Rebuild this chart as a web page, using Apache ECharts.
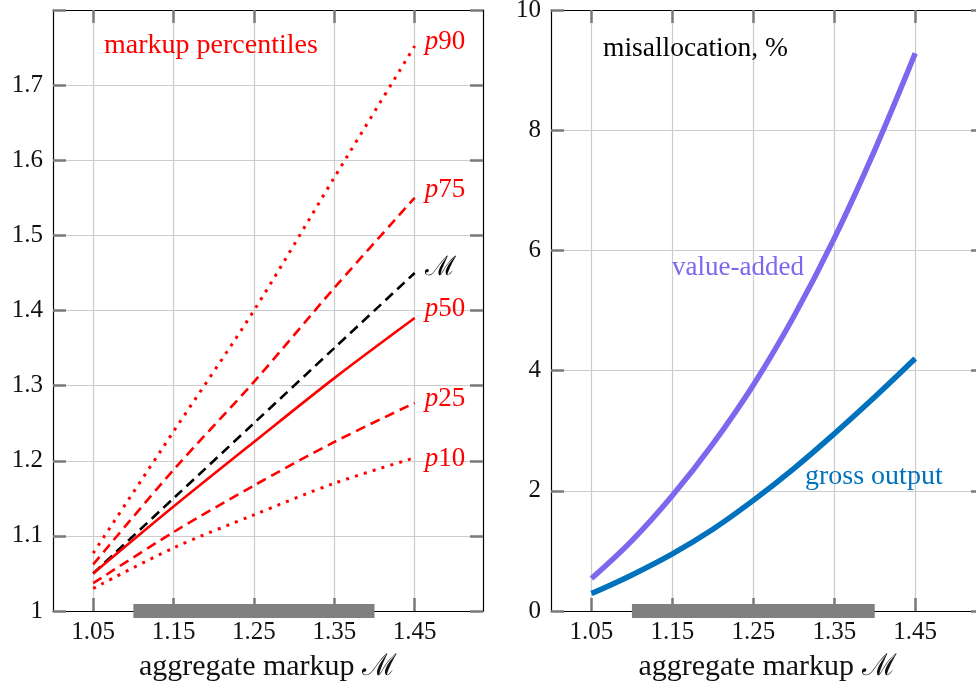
<!DOCTYPE html>
<html><head><meta charset="utf-8">
<script src="https://cdn.jsdelivr.net/npm/echarts@6/dist/echarts.min.js"></script>
<style>html,body{margin:0;padding:0;background:#fff}#c{width:976px;height:685px}</style>
</head><body><div id="c"></div>
<script>
// ---- data ----
const markupX = [1.05, 1.15, 1.25, 1.35, 1.45];
const p90 = [1.077, 1.239, 1.400, 1.577, 1.752];
const p75 = [1.062, 1.188, 1.305, 1.430, 1.550];
const aggM = [1.05, 1.15, 1.25, 1.35, 1.45];
const p50 = [1.050, 1.139, 1.225, 1.310, 1.390];
const p25 = [1.037, 1.105, 1.167, 1.225, 1.277];
const p10 = [1.030, 1.084, 1.128, 1.170, 1.204];
const misX = [1.05, 1.10, 1.15, 1.20, 1.25, 1.30, 1.35, 1.40, 1.45];
const valueAdded = [0.54, 1.17, 1.92, 2.78, 3.76, 4.90, 6.20, 7.67, 9.28];
const grossOutput = [0.29, 0.60, 0.95, 1.36, 1.84, 2.37, 2.95, 3.56, 4.20];
const xTicks = [1.05, 1.15, 1.25, 1.35, 1.45];
const xRange = [1.0, 1.535];
const leftYRange = [1.0, 1.8];
const rightYRange = [0, 10];
const bandRange = [1.1, 1.4];
const percentileNames = ['90', '75', 'M', '50', '25', '10'];

const SERIF = 'Liberation Serif';
const TICKC = '#7a7a7a';
const GRIDC = '#cccccc';
const RED = '#ff0000';

function zip(xs, ys) { return xs.map((x, i) => [x, ys[i]]); }

function xAxisPair(gridIndex) {
  return [{
    type: 'value', gridIndex, position: 'bottom', min: xRange[0], max: xRange[1],
    axisLine: { show: true, onZero: false, lineStyle: { color: '#000', width: 1.2 } },
    axisTick: { show: true, inside: true, length: 13, customValues: xTicks, lineStyle: { color: TICKC, width: 2.5 } },
    axisLabel: { show: true, customValues: xTicks, margin: 9, formatter: v => v.toFixed(2),
      fontFamily: SERIF, fontSize: 25, color: '#111' },
    splitLine: { show: true, lineStyle: { color: GRIDC, width: 1.2 } },
    name: 'aggregate markup ℳ', nameLocation: 'middle', nameGap: 41,
    nameTextStyle: { fontFamily: SERIF, fontSize: 30, color: '#111' }
  }, {
    type: 'value', gridIndex, position: 'top', min: xRange[0], max: xRange[1],
    axisLine: { show: true, onZero: false, lineStyle: { color: '#000', width: 1.2 } },
    axisTick: { show: true, inside: true, length: 13, customValues: xTicks, lineStyle: { color: TICKC, width: 2.5 } },
    axisLabel: { show: false }, splitLine: { show: false }
  }];
}
function yAxisPair(gridIndex, range, interval, hideMax) {
  return [{
    type: 'value', gridIndex, position: 'left', min: range[0], max: range[1], interval,
    axisLine: { show: true, onZero: false, lineStyle: { color: '#000', width: 1.2 } },
    axisTick: { show: true, inside: true, length: 13, lineStyle: { color: TICKC, width: 2.5 } },
    axisLabel: { show: true, margin: 10, fontFamily: SERIF, fontSize: 25, color: '#111',
      formatter: v => (hideMax && Math.abs(v - range[1]) < 1e-9) ? '' : String(+v.toFixed(2)) },
    splitLine: { show: true, lineStyle: { color: GRIDC, width: 1.2 } }
  }, {
    type: 'value', gridIndex, position: 'right', min: range[0], max: range[1], interval,
    axisLine: { show: true, onZero: false, lineStyle: { color: '#000', width: 1.2 } },
    axisTick: { show: true, inside: true, length: 13, lineStyle: { color: TICKC, width: 2.5 } },
    axisLabel: { show: false }, splitLine: { show: false }
  }];
}

const labelRich = {
  i: { fontFamily: SERIF, fontStyle: 'italic', fontSize: 27, color: RED },
  n: { fontFamily: SERIF, fontSize: 27, color: RED },
  m: { fontFamily: SERIF, fontSize: 27, color: '#000' }
};
function pLine(name, data, color, kind, labelTxt, dy) {
  let lineType = 'solid';
  if (kind === 'dash') lineType = [10, 6];
  if (kind === 'dot') lineType = [3, 6.2];
  return {
    type: 'line', name, xAxisIndex: 0, yAxisIndex: 0, data: zip(markupX, data),
    showSymbol: false, symbol: 'none', smooth: 0.3, z: 3,
    lineStyle: { color, width: kind === 'dot' ? 3 : 2.6, type: lineType, cap: 'butt' },
    endLabel: { show: true, formatter: () => labelTxt, distance: 10, offset: [0, dy], rich: labelRich }
  };
}
function txt(x, y, text, color, size) {
  return { type: 'text', left: x, top: y, z: 10,
    style: { text, fill: color, fontFamily: SERIF, fontSize: size } };
}

const option = {
  animation: false,
  backgroundColor: '#fff',
  textStyle: { fontFamily: SERIF },
  grid: [
    { left: 53, top: 10, width: 430, height: 601, outerBoundsMode: 'none', containLabel: false },
    { left: 551, top: 10, width: 433, height: 601, outerBoundsMode: 'none', containLabel: false }
  ],
  xAxis: [...xAxisPair(0), ...xAxisPair(1)],
  yAxis: [...yAxisPair(0, leftYRange, 0.1, true), ...yAxisPair(1, rightYRange, 2, false)],
  series: [
    { type: 'line', name: 'bandL', xAxisIndex: 0, yAxisIndex: 0, clip: true, symbol: 'none', z: 1,
      data: [[bandRange[0], leftYRange[0]], [bandRange[1], leftYRange[0]]],
      lineStyle: { color: '#808080', width: 14, cap: 'butt' } },
    { type: 'line', name: 'bandR', xAxisIndex: 2, yAxisIndex: 2, clip: true, symbol: 'none', z: 1,
      data: [[bandRange[0], rightYRange[0]], [bandRange[1], rightYRange[0]]],
      lineStyle: { color: '#808080', width: 14, cap: 'butt' } },
    pLine('p90', p90, RED, 'dot', '{i|p}{n|' + percentileNames[0] + '}', -4.5),
    pLine('p75', p75, RED, 'dash', '{i|p}{n|' + percentileNames[1] + '}', -8),
    pLine('M', aggM, '#000', 'dash', '{m|ℳ}', -5.5),
    pLine('p50', p50, RED, 'solid', '{i|p}{n|' + percentileNames[3] + '}', -9),
    pLine('p25', p25, RED, 'dash', '{i|p}{n|' + percentileNames[4] + '}', -3.5),
    pLine('p10', p10, RED, 'dot', '{i|p}{n|' + percentileNames[5] + '}', 1.5),
    { type: 'line', name: 'value-added', xAxisIndex: 2, yAxisIndex: 2, data: zip(misX, valueAdded),
      symbol: 'none', smooth: 0.4, z: 3, lineStyle: { color: '#7b68ee', width: 5.5 } },
    { type: 'line', name: 'gross output', xAxisIndex: 2, yAxisIndex: 2, data: zip(misX, grossOutput),
      symbol: 'none', smooth: 0.4, z: 3, lineStyle: { color: '#0072bd', width: 5.5 } }
  ],
  graphic: [
    txt(104, 32, 'markup percentiles', RED, 28),
    txt(603, 35, 'misallocation, %', '#000', 27.5),
    txt(672, 254, 'value-added', '#7b68ee', 27),
    txt(805, 463, 'gross output', '#0072bd', 28)
  ]
};
const chart = echarts.init(document.getElementById('c'), null, { renderer: 'canvas' });
chart.setOption(option);
</script></body></html>
